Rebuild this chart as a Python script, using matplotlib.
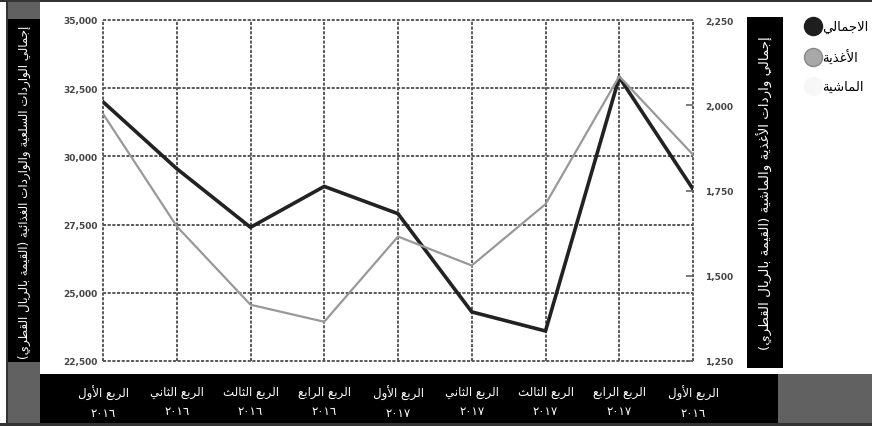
import re

import matplotlib
matplotlib.use("Agg")
import matplotlib.pyplot as plt
from matplotlib.lines import Line2D
from matplotlib.patches import Rectangle

# quarterly values
quarters = ["الربع الأول", "الربع الثاني", "الربع الثالث", "الربع الرابع",
            "الربع الأول", "الربع الثاني", "الربع الثالث", "الربع الرابع",
            "الربع الأول"]
years = ["٢٠١٦", "٢٠١٦", "٢٠١٦", "٢٠١٦",
         "٢٠١٧", "٢٠١٧", "٢٠١٧", "٢٠١٧", "٢٠١٦"]
total_imports = [32000, 29550, 27400, 28900, 27900, 24300, 23600, 32900, 28800]
food_imports = [1975, 1645, 1415, 1365, 1615, 1530, 1710, 2085, 1855]

left_ticks = [22500, 25000, 27500, 30000, 32500, 35000]
right_ticks = [1250, 1500, 1750, 2000, 2250]

left_title = "إجمالي الواردات السلعية والواردات الغذائية (القيمة بالريال القطري)"
right_title = "إجمالي واردات الأغذية والماشية (القيمة بالريال القطري)"
legend_labels = ["الاجمالي", "الأغذية", "الماشية"]

# matplotlib has no bidi/shaping, so map letters to presentation forms by hand
_FORMS = {
    "ء": (0xFE80, 1), "آ": (0xFE81, 2), "أ": (0xFE83, 2), "ؤ": (0xFE85, 2),
    "إ": (0xFE87, 2), "ئ": (0xFE89, 4), "ا": (0xFE8D, 2), "ب": (0xFE8F, 4),
    "ة": (0xFE93, 2), "ت": (0xFE95, 4), "ث": (0xFE99, 4), "ج": (0xFE9D, 4),
    "ح": (0xFEA1, 4), "خ": (0xFEA5, 4), "د": (0xFEA9, 2), "ذ": (0xFEAB, 2),
    "ر": (0xFEAD, 2), "ز": (0xFEAF, 2), "س": (0xFEB1, 4), "ش": (0xFEB5, 4),
    "ص": (0xFEB9, 4), "ض": (0xFEBD, 4), "ط": (0xFEC1, 4), "ظ": (0xFEC5, 4),
    "ع": (0xFEC9, 4), "غ": (0xFECD, 4), "ف": (0xFED1, 4), "ق": (0xFED5, 4),
    "ك": (0xFED9, 4), "ل": (0xFEDD, 4), "م": (0xFEE1, 4), "ن": (0xFEE5, 4),
    "ه": (0xFEE9, 4), "و": (0xFEED, 2), "ى": (0xFEEF, 2), "ي": (0xFEF1, 4),
}
_LAM_ALEF = {"آ": 0xFEF5, "أ": 0xFEF7, "إ": 0xFEF9, "ا": 0xFEFB}


def _shape_line(text):
    toks = []
    i = 0
    while i < len(text):
        c = text[i]
        if c == "ل" and i + 1 < len(text) and text[i + 1] in _LAM_ALEF:
            toks.append((_LAM_ALEF[text[i + 1]], 2))
            i += 2
            continue
        toks.append(_FORMS.get(c, c))
        i += 1
    out = []
    for k, t in enumerate(toks):
        if isinstance(t, str):
            out.append(t)
            continue
        base, n = t
        prev = toks[k - 1] if k > 0 else None
        nxt = toks[k + 1] if k + 1 < len(toks) else None
        jp = n >= 2 and isinstance(prev, tuple) and prev[1] == 4
        jn = n == 4 and isinstance(nxt, tuple) and nxt[1] >= 2
        off = 3 if (jp and jn) else 1 if jp else 2 if jn else 0
        out.append(chr(base + off))
    s = "".join(out)[::-1]
    s = s.translate(str.maketrans("()", ")("))
    return re.sub(r"[0-9\u0660-\u0669,]+", lambda m: m.group(0)[::-1], s)


def ar(text):
    return "\n".join(_shape_line(line) for line in text.split("\n"))


plt.rcParams["font.family"] = ["DejaVu Sans"]

fig = plt.figure(figsize=(8.72, 4.27), dpi=100)
W, H = 872, 427


def px_rect(x0, y0, x1, y1, color):
    fig.add_artist(Rectangle((x0 / W, 1 - y1 / H), (x1 - x0) / W, (y1 - y0) / H,
                             transform=fig.transFigure, color=color, lw=0, zorder=0))


# frame and side panels
px_rect(0, 0, W, 3, "#333333")
px_rect(0, 424, W, H, "#333333")
px_rect(6, 0, 8, H, "#333333")
px_rect(8, 3, 40, 424, "#616161")
px_rect(8, 20, 40, 363, "#000000")
px_rect(40, 375, 778, 424, "#000000")
px_rect(778, 375, W, 424, "#616161")
px_rect(747, 18, 783, 369, "#000000")

ax = fig.add_axes([103 / W, 1 - 362 / H, (693 - 103) / W, (362 - 21) / H])
ax.patch.set_alpha(0)
x = list(range(len(quarters)))

ax.plot(x, total_imports, color="#222222", lw=2.6, zorder=5, solid_joinstyle="miter")
ax.set_xlim(x[0], x[-1])
ax.set_ylim(left_ticks[0], left_ticks[-1])
ax.set_yticks(left_ticks)
ax.set_yticklabels([f"{v:,}" for v in left_ticks], fontsize=6.5,
                   fontweight="bold", color="#444444")
ax.set_xticks(x)
ax.set_xticklabels([ar(q + "\n" + y) for q, y in zip(quarters, years)],
                   fontsize=8.5, color="white", linespacing=1.6)
ax.tick_params(axis="x", length=0, pad=17)
ax.tick_params(axis="y", length=0, pad=4)
ax.grid(True, color="#5a5a5a", lw=1.4, linestyle=(0, (1.6, 0.8)))
for gl in ax.get_xgridlines() + ax.get_ygridlines():
    gl.set_clip_on(False)
for sp in ax.spines.values():
    sp.set_visible(False)

ax2 = ax.twinx()
ax2.plot(x, food_imports, color="#999999", lw=1.6, zorder=4)
ax2.set_ylim(right_ticks[0], right_ticks[-1])
ax2.set_yticks(right_ticks)
ax2.set_yticklabels([f"{v:,}" for v in right_ticks], fontsize=6.5,
                    fontweight="bold", color="#444444")
ax2.tick_params(axis="y", direction="in", length=5, width=1.2,
                color="#666666", pad=9)
for sp in ax2.spines.values():
    sp.set_visible(False)

fig.text(24 / W, 1 - 192 / H, ar(left_title), rotation=90, color="white",
         fontsize=8.6, ha="center", va="center")
fig.text(765 / W, 1 - 193 / H, ar(right_title), rotation=90, color="white",
         fontsize=9.6, ha="center", va="center")

handles = [
    Line2D([], [], ls="none", marker="o", markersize=13, color="#1e1e1e"),
    Line2D([], [], ls="none", marker="o", markersize=13, color="#a8a8a8",
           markeredgecolor="#888888"),
    Line2D([], [], ls="none", marker="o", markersize=13, color="#f7f7f7"),
]
fig.legend(handles, [ar(t) for t in legend_labels], loc="upper left",
           bbox_to_anchor=(800 / W, 1 - 16 / H), frameon=False, fontsize=9.5,
           handletextpad=0.05, labelspacing=1.2, handlelength=1.2,
           borderaxespad=0)

fig.savefig("out.png", dpi=100)
